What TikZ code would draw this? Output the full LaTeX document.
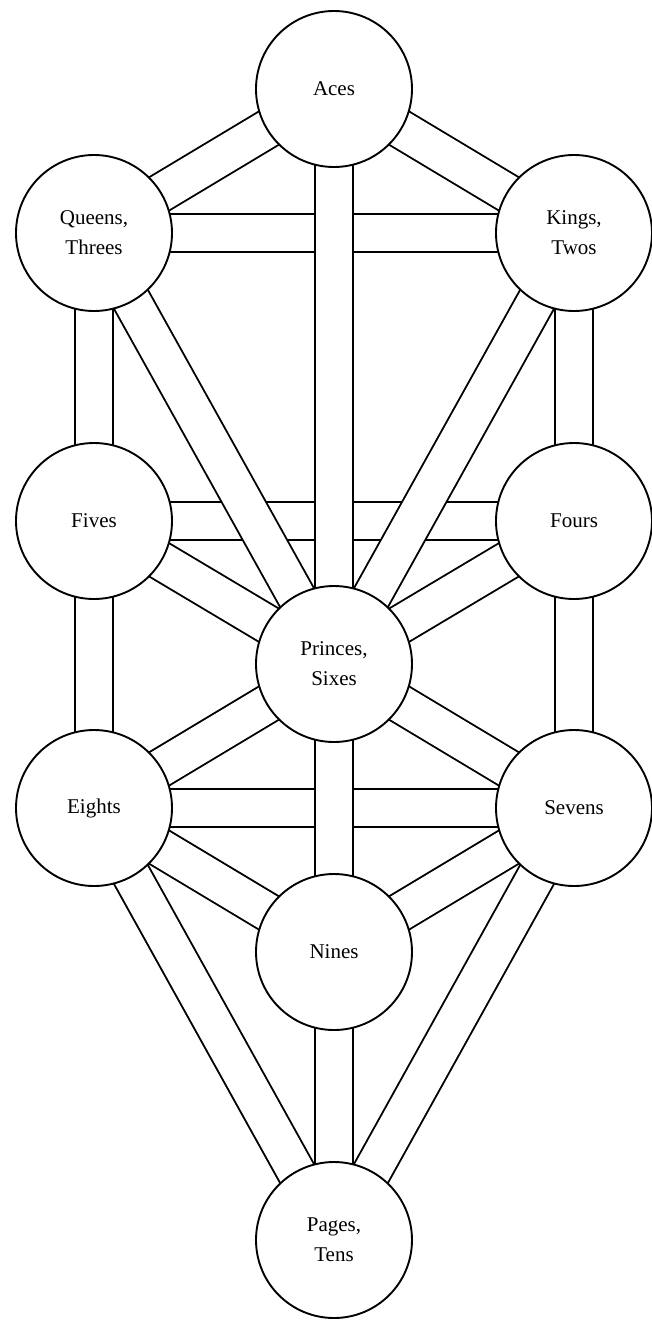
\documentclass[tikz,border=0pt]{standalone}
\usepackage{fontspec}
\setmainfont{Liberation Serif}
\usetikzlibrary{backgrounds}
\begin{document}
\begin{tikzpicture}[x=1pt,y=-1pt,
  sephira/.style={circle, draw=black, line width=1.9pt, fill=white, minimum size=156pt,
    inner sep=0pt, align=center, font=\fontsize{21}{30}\selectfont},
  chan/.style={draw=white, line width=36.8pt, preaction={draw=black, line width=40.6pt}}]
\useasboundingbox (0,0) rectangle (652,1320);
\node[sephira] (aces)    at (334,89)   {Aces};
\node[sephira] (queens)  at (94,233)   {Queens,\\Threes};
\node[sephira] (kings)   at (574,233)  {Kings,\\Twos};
\node[sephira] (fives)   at (94,521)   {Fives};
\node[sephira] (fours)   at (574,521)  {Fours};
\node[sephira] (princes) at (334,664)  {Princes,\\Sixes};
\node[sephira] (eights)  at (94,808)   {Eights};
\node[sephira] (sevens)  at (574,808)  {Sevens};
\node[sephira] (nines)   at (334,952)  {Nines};
\node[sephira] (pages)   at (334,1240) {Pages,\\Tens};
\begin{scope}[on background layer]
  % horizontal channels (underneath)
  \draw[chan] (queens.center) -- (kings.center);
  \draw[chan] (fives.center) -- (fours.center);
  \draw[chan] (eights.center) -- (sevens.center);
  % other channels
  \draw[chan] (aces.center) -- (queens.center);
  \draw[chan] (aces.center) -- (kings.center);
  \draw[chan] (aces.center) -- (princes.center);
  \draw[chan] (queens.center) -- (fives.center);
  \draw[chan] (kings.center) -- (fours.center);
  \draw[chan] (queens.center) -- (princes.center);
  \draw[chan] (kings.center) -- (princes.center);
  \draw[chan] (fives.center) -- (princes.center);
  \draw[chan] (fours.center) -- (princes.center);
  \draw[chan] (fives.center) -- (eights.center);
  \draw[chan] (fours.center) -- (sevens.center);
  \draw[chan] (princes.center) -- (eights.center);
  \draw[chan] (princes.center) -- (sevens.center);
  \draw[chan] (princes.center) -- (nines.center);
  \draw[chan] (eights.center) -- (nines.center);
  \draw[chan] (sevens.center) -- (nines.center);
  \draw[chan] (eights.center) -- (pages.center);
  \draw[chan] (sevens.center) -- (pages.center);
  \draw[chan] (nines.center) -- (pages.center);
\end{scope}
\end{tikzpicture}
\end{document}
